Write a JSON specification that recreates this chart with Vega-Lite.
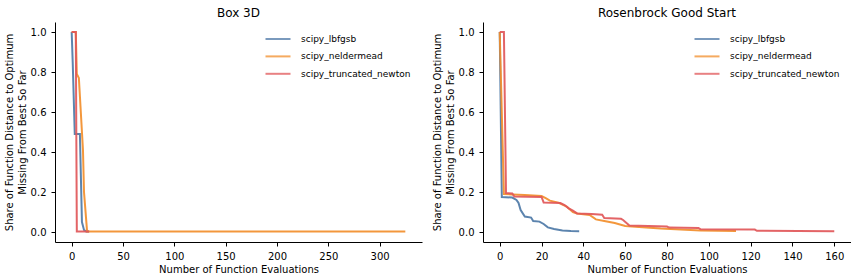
{
  "$schema": "https://vega.github.io/schema/vega-lite/v6.json",
  "padding": {"left": 4, "top": 7, "right": 0, "bottom": 0},
  "spacing": 10,
  "config": {
    "font": "DejaVu Sans",
    "view": {"stroke": null},
    "axis": {"domainColor": "#000", "tickColor": "#000", "labelColor": "#000", "titleColor": "#000", "grid": false, "labelFontSize": 10, "titleFontSize": 10, "titleFontWeight": "normal", "tickSize": 4, "labelPadding": 5, "titlePadding": 3, "domainWidth": 1, "titleLineHeight": 13},
    "title": {"fontSize": 12, "fontWeight": "normal", "color": "#000", "offset": 2},
    "legend": {"orient": "top-right", "offset": 11, "title": null, "symbolType": "M-2.5,0H2.5", "symbolSize": 100, "symbolStrokeWidth": 2, "symbolOpacity": 0.75, "labelOffset": 17, "labelFontSize": 9, "labelColor": "#000", "rowPadding": 6.4, "padding": 0}
  },
  "data": {"values": [
    {"p": "Box 3D", "a": "scipy_lbfgsb", "x": 0, "y": 1.0},
    {"p": "Box 3D", "a": "scipy_lbfgsb", "x": 1, "y": 0.85},
    {"p": "Box 3D", "a": "scipy_lbfgsb", "x": 3, "y": 0.49},
    {"p": "Box 3D", "a": "scipy_lbfgsb", "x": 8, "y": 0.49},
    {"p": "Box 3D", "a": "scipy_lbfgsb", "x": 10, "y": 0.05},
    {"p": "Box 3D", "a": "scipy_lbfgsb", "x": 12, "y": 0.01},
    {"p": "Box 3D", "a": "scipy_lbfgsb", "x": 14, "y": 0.003},
    {"p": "Box 3D", "a": "scipy_lbfgsb", "x": 17, "y": 0.003},
    {"p": "Box 3D", "a": "scipy_neldermead", "x": 0, "y": 1.0},
    {"p": "Box 3D", "a": "scipy_neldermead", "x": 4, "y": 1.0},
    {"p": "Box 3D", "a": "scipy_neldermead", "x": 5, "y": 0.79},
    {"p": "Box 3D", "a": "scipy_neldermead", "x": 7, "y": 0.77},
    {"p": "Box 3D", "a": "scipy_neldermead", "x": 11, "y": 0.41},
    {"p": "Box 3D", "a": "scipy_neldermead", "x": 12, "y": 0.2},
    {"p": "Box 3D", "a": "scipy_neldermead", "x": 15, "y": 0.003},
    {"p": "Box 3D", "a": "scipy_neldermead", "x": 325, "y": 0.003},
    {"p": "Box 3D", "a": "scipy_truncated_newton", "x": 0, "y": 1.0},
    {"p": "Box 3D", "a": "scipy_truncated_newton", "x": 4, "y": 1.0},
    {"p": "Box 3D", "a": "scipy_truncated_newton", "x": 5, "y": 0.003},
    {"p": "Box 3D", "a": "scipy_truncated_newton", "x": 17, "y": 0.003},
    {"p": "Rosenbrock Good Start", "a": "scipy_lbfgsb", "x": 0, "y": 1.0},
    {"p": "Rosenbrock Good Start", "a": "scipy_lbfgsb", "x": 1, "y": 0.175},
    {"p": "Rosenbrock Good Start", "a": "scipy_lbfgsb", "x": 6, "y": 0.172},
    {"p": "Rosenbrock Good Start", "a": "scipy_lbfgsb", "x": 8, "y": 0.16},
    {"p": "Rosenbrock Good Start", "a": "scipy_lbfgsb", "x": 9, "y": 0.145},
    {"p": "Rosenbrock Good Start", "a": "scipy_lbfgsb", "x": 10, "y": 0.11},
    {"p": "Rosenbrock Good Start", "a": "scipy_lbfgsb", "x": 12, "y": 0.077},
    {"p": "Rosenbrock Good Start", "a": "scipy_lbfgsb", "x": 15, "y": 0.072},
    {"p": "Rosenbrock Good Start", "a": "scipy_lbfgsb", "x": 16, "y": 0.055},
    {"p": "Rosenbrock Good Start", "a": "scipy_lbfgsb", "x": 19, "y": 0.052},
    {"p": "Rosenbrock Good Start", "a": "scipy_lbfgsb", "x": 21, "y": 0.04},
    {"p": "Rosenbrock Good Start", "a": "scipy_lbfgsb", "x": 23, "y": 0.023},
    {"p": "Rosenbrock Good Start", "a": "scipy_lbfgsb", "x": 26, "y": 0.015},
    {"p": "Rosenbrock Good Start", "a": "scipy_lbfgsb", "x": 30, "y": 0.008},
    {"p": "Rosenbrock Good Start", "a": "scipy_lbfgsb", "x": 34, "y": 0.005},
    {"p": "Rosenbrock Good Start", "a": "scipy_lbfgsb", "x": 38, "y": 0.004},
    {"p": "Rosenbrock Good Start", "a": "scipy_neldermead", "x": 0, "y": 1.0},
    {"p": "Rosenbrock Good Start", "a": "scipy_neldermead", "x": 2, "y": 0.19},
    {"p": "Rosenbrock Good Start", "a": "scipy_neldermead", "x": 6, "y": 0.188},
    {"p": "Rosenbrock Good Start", "a": "scipy_neldermead", "x": 12, "y": 0.185},
    {"p": "Rosenbrock Good Start", "a": "scipy_neldermead", "x": 20, "y": 0.18},
    {"p": "Rosenbrock Good Start", "a": "scipy_neldermead", "x": 22, "y": 0.169},
    {"p": "Rosenbrock Good Start", "a": "scipy_neldermead", "x": 24, "y": 0.157},
    {"p": "Rosenbrock Good Start", "a": "scipy_neldermead", "x": 28, "y": 0.147},
    {"p": "Rosenbrock Good Start", "a": "scipy_neldermead", "x": 32, "y": 0.127},
    {"p": "Rosenbrock Good Start", "a": "scipy_neldermead", "x": 35, "y": 0.1},
    {"p": "Rosenbrock Good Start", "a": "scipy_neldermead", "x": 37, "y": 0.093},
    {"p": "Rosenbrock Good Start", "a": "scipy_neldermead", "x": 43, "y": 0.085},
    {"p": "Rosenbrock Good Start", "a": "scipy_neldermead", "x": 46, "y": 0.063},
    {"p": "Rosenbrock Good Start", "a": "scipy_neldermead", "x": 50, "y": 0.055},
    {"p": "Rosenbrock Good Start", "a": "scipy_neldermead", "x": 55, "y": 0.045},
    {"p": "Rosenbrock Good Start", "a": "scipy_neldermead", "x": 60, "y": 0.03},
    {"p": "Rosenbrock Good Start", "a": "scipy_neldermead", "x": 70, "y": 0.022},
    {"p": "Rosenbrock Good Start", "a": "scipy_neldermead", "x": 77, "y": 0.017},
    {"p": "Rosenbrock Good Start", "a": "scipy_neldermead", "x": 96, "y": 0.008},
    {"p": "Rosenbrock Good Start", "a": "scipy_neldermead", "x": 113, "y": 0.005},
    {"p": "Rosenbrock Good Start", "a": "scipy_truncated_newton", "x": 0, "y": 1.0},
    {"p": "Rosenbrock Good Start", "a": "scipy_truncated_newton", "x": 2, "y": 1.0},
    {"p": "Rosenbrock Good Start", "a": "scipy_truncated_newton", "x": 3, "y": 0.195},
    {"p": "Rosenbrock Good Start", "a": "scipy_truncated_newton", "x": 6, "y": 0.193},
    {"p": "Rosenbrock Good Start", "a": "scipy_truncated_newton", "x": 7, "y": 0.177},
    {"p": "Rosenbrock Good Start", "a": "scipy_truncated_newton", "x": 20, "y": 0.175},
    {"p": "Rosenbrock Good Start", "a": "scipy_truncated_newton", "x": 21, "y": 0.148},
    {"p": "Rosenbrock Good Start", "a": "scipy_truncated_newton", "x": 29, "y": 0.145},
    {"p": "Rosenbrock Good Start", "a": "scipy_truncated_newton", "x": 31, "y": 0.135},
    {"p": "Rosenbrock Good Start", "a": "scipy_truncated_newton", "x": 33, "y": 0.118},
    {"p": "Rosenbrock Good Start", "a": "scipy_truncated_newton", "x": 35, "y": 0.107},
    {"p": "Rosenbrock Good Start", "a": "scipy_truncated_newton", "x": 37, "y": 0.093},
    {"p": "Rosenbrock Good Start", "a": "scipy_truncated_newton", "x": 44, "y": 0.09},
    {"p": "Rosenbrock Good Start", "a": "scipy_truncated_newton", "x": 49, "y": 0.086},
    {"p": "Rosenbrock Good Start", "a": "scipy_truncated_newton", "x": 50, "y": 0.07},
    {"p": "Rosenbrock Good Start", "a": "scipy_truncated_newton", "x": 58, "y": 0.066},
    {"p": "Rosenbrock Good Start", "a": "scipy_truncated_newton", "x": 59, "y": 0.06},
    {"p": "Rosenbrock Good Start", "a": "scipy_truncated_newton", "x": 62, "y": 0.032},
    {"p": "Rosenbrock Good Start", "a": "scipy_truncated_newton", "x": 80, "y": 0.027},
    {"p": "Rosenbrock Good Start", "a": "scipy_truncated_newton", "x": 81, "y": 0.022},
    {"p": "Rosenbrock Good Start", "a": "scipy_truncated_newton", "x": 95, "y": 0.02},
    {"p": "Rosenbrock Good Start", "a": "scipy_truncated_newton", "x": 96, "y": 0.014},
    {"p": "Rosenbrock Good Start", "a": "scipy_truncated_newton", "x": 122, "y": 0.012},
    {"p": "Rosenbrock Good Start", "a": "scipy_truncated_newton", "x": 123, "y": 0.006},
    {"p": "Rosenbrock Good Start", "a": "scipy_truncated_newton", "x": 160, "y": 0.004}
  ]},
  "resolve": {"scale": {"color": "independent", "x": "independent", "y": "independent"}},
  "hconcat": [
    {
      "title": "Box 3D",
      "width": 367,
      "height": 220,
      "transform": [{"filter": "datum.p === 'Box 3D'"}],
      "mark": {"type": "line", "strokeWidth": 2, "opacity": 0.92},
      "encoding": {
        "x": {"field": "x", "type": "quantitative", "title": "Number of Function Evaluations", "scale": {"domain": [-16.25, 341.25], "nice": false, "zero": false}, "axis": {"values": [0, 50, 100, 150, 200, 250, 300]}},
        "y": {"field": "y", "type": "quantitative", "title": ["Share of Function Distance to Optimum", "Missing From Best So Far"], "scale": {"domain": [-0.05, 1.05], "nice": false, "zero": false}, "axis": {"values": [0, 0.2, 0.4, 0.6, 0.8, 1.0], "format": ".1f"}},
        "color": {"field": "a", "type": "nominal", "scale": {"domain": ["scipy_lbfgsb", "scipy_neldermead", "scipy_truncated_newton"], "range": ["#4e79a7", "#f28e2b", "#e15759"]}}
      }
    },
    {
      "title": "Rosenbrock Good Start",
      "width": 368,
      "height": 220,
      "transform": [{"filter": "datum.p === 'Rosenbrock Good Start'"}],
      "mark": {"type": "line", "strokeWidth": 2, "opacity": 0.92},
      "encoding": {
        "x": {"field": "x", "type": "quantitative", "title": "Number of Function Evaluations", "scale": {"domain": [-8, 168], "nice": false, "zero": false}, "axis": {"values": [0, 20, 40, 60, 80, 100, 120, 140, 160]}},
        "y": {"field": "y", "type": "quantitative", "title": ["Share of Function Distance to Optimum", "Missing From Best So Far"], "scale": {"domain": [-0.05, 1.05], "nice": false, "zero": false}, "axis": {"values": [0, 0.2, 0.4, 0.6, 0.8, 1.0], "format": ".1f"}},
        "color": {"field": "a", "type": "nominal", "scale": {"domain": ["scipy_lbfgsb", "scipy_neldermead", "scipy_truncated_newton"], "range": ["#4e79a7", "#f28e2b", "#e15759"]}}
      }
    }
  ]
}
